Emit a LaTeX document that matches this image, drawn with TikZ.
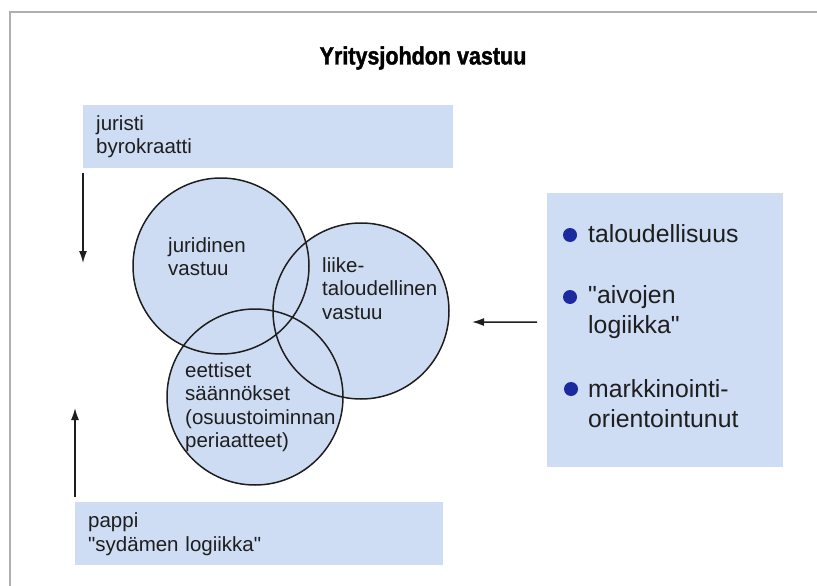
\documentclass[tikz,border=0pt]{standalone}
\usepackage{fontspec}
\setmainfont{Liberation Sans}
\newfontfamily\titlefont[FakeStretch=0.86,FakeBold=1.5]{Liberation Sans Bold}
\usetikzlibrary{arrows.meta}
\definecolor{boxblue}{RGB}{206,220,244}
\definecolor{circblue}{RGB}{206,220,243}
\definecolor{dotblue}{RGB}{28,42,160}
\definecolor{inkc}{RGB}{30,30,30}
\definecolor{framegray}{RGB}{175,175,175}
\newcommand{\sq}{\textquotedbl}
\begin{document}
\begin{tikzpicture}[x=1pt,y=-1pt,
  txt/.style={inner sep=0pt, anchor=base west, text=inkc, font=\fontsize{20.5}{23.5}\selectfont},
  bigtxt/.style={inner sep=0pt, anchor=base west, text=inkc, font=\fontsize{24.8}{30.5}\selectfont},
  bluebox/.style={fill=boxblue, draw=none, anchor=north west, inner xsep=13pt, inner ysep=0pt,
                  align=left, text=inkc, font=\fontsize{20.5}{24}\selectfont},
  venn/.style={circle, minimum size=176pt, inner sep=0pt},
  ring/.style={draw=inkc, line width=1.5pt},
  dot/.style={circle, fill=dotblue, minimum size=14pt, inner sep=0pt},
  arr/.style={draw=inkc, line width=1.5pt, -{Latex[length=12pt,width=8pt]}}
]
\useasboundingbox (0,0) rectangle (817,586);
% frame
\draw[framegray, line width=2pt] (817,12.5) -- (10,12.5) -- (10,586);
% title
\node[inner sep=0pt, text=black, font=\titlefont\fontsize{25}{30}\selectfont] (title) at (423,58) {Yritysjohdon vastuu};
% boxes
\node[bluebox, minimum width=370pt, minimum height=63pt, text width=344pt] (jur) at (83,105) {juristi\\byrokraatti};
\node[bluebox, minimum width=368pt, minimum height=63pt, text width=342pt] (pap) at (75,502) {pappi\\\sq sydämen logiikka\sq};
\node[fill=boxblue, anchor=north west, minimum width=236pt, minimum height=274pt, inner sep=0pt] (rb) at (547,193) {};
% circles: fills first, then outlines
\node[venn, fill=circblue] (c1) at (221,266) {};
\node[venn, fill=circblue] (c2) at (361,311) {};
\node[venn, fill=circblue] (c3) at (255,397) {};
\node[venn, ring] at (c1) {};
\node[venn, ring] at (c2) {};
\node[venn, ring] at (c3) {};
% circle texts
\node[txt] (t1) at (168,252) {\vtop{\hbox{juridinen}\hbox{vastuu}}};
\node[txt] (t2) at (322,272) {\vtop{\hbox{liike-}\hbox{taloudellinen}\hbox{vastuu}}};
\node[txt] (t3) at (185,377) {\vtop{\hbox{eettiset}\hbox{säännökset}\hbox{(osuustoiminnan}\hbox{periaatteet)}}};
% right box items
\node[dot] (d1) at (570,235) {};
\node[dot] (d2) at (570,297) {};
\node[dot] (d3) at (571,389) {};
\node[bigtxt] (r1) at (588,242) {taloudellisuus};
\node[bigtxt] (r2) at (588,303) {\vtop{\hbox{\sq aivojen}\hbox{logiikka\sq}}};
\node[bigtxt] (r3) at (588,397) {\vtop{\hbox{markkinointi-}\hbox{orientointunut}}};
% arrows
\coordinate (downend) at (83,263);
\coordinate (upend) at (75,408);
\coordinate (leftend) at (472,322);
\draw[arr] ([yshift=-5pt]jur.south west) -- (downend);
\draw[arr] ([yshift=5pt]pap.north west) -- (upend);
\draw[arr] ([xshift=-10pt,yshift=8pt]rb.west) -- (leftend);
\end{tikzpicture}
\end{document}
